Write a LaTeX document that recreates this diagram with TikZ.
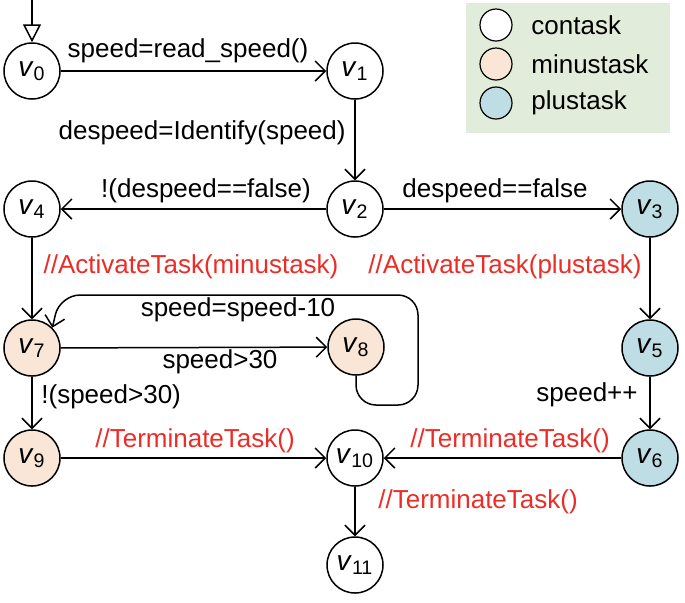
\documentclass[tikz,border=0pt]{standalone}
\usepackage{fontspec}
\setmainfont{Liberation Sans}
\usetikzlibrary{arrows.meta}
\definecolor{peach}{RGB}{250,230,214}
\definecolor{pblue}{RGB}{190,221,228}
\definecolor{legbg}{RGB}{226,236,218}
\definecolor{lred}{RGB}{235,45,40}
\newcommand{\vlab}[1]{\textit{v}\textsubscript{#1}}
\tikzset{
  state/.style={circle, draw, line width=0.75pt, minimum size=28pt, inner sep=0pt, font=\fontsize{14}{14}\selectfont},
  con/.style={state, fill=white},
  minus/.style={state, fill=peach},
  plus/.style={state, fill=pblue},
  arr/.style={line width=0.75pt, -{Straight Barb[length=5pt,width=10pt,line width=0.75pt]}},
  lab/.style={font=\fontsize{13}{13}\selectfont, inner sep=0pt},
  rlab/.style={lab, text=lred},
  legc/.style={circle, draw, line width=0.6pt, minimum size=16pt, inner sep=0pt}
}
\begin{document}
\begin{tikzpicture}[x=0.5pt,y=-0.5pt]
\useasboundingbox (0,0) rectangle (685,602);
% legend
\node[draw=none, fill=legbg, minimum width=102pt, minimum height=65pt, inner sep=0pt] (leg) at (568,68) {};
\node[legc, fill=white] (lc1) at (496,25) {};
\node[legc, fill=peach] (lc2) at (496,64) {};
\node[legc, fill=pblue] (lc3) at (496,103) {};
\node[lab, anchor=west] (lt1) at (531,25) {contask};
\node[lab, anchor=west] (lt2) at (531,64) {minustask};
\node[lab, anchor=west] (lt3) at (531,103) {plustask};
% states
\node[con] (v0) at (32,71) {\vlab{0}};
\node[con] (v1) at (355,71) {\vlab{1}};
\node[con] (v2) at (355,209) {\vlab{2}};
\node[plus] (v3) at (650,209) {\vlab{3}};
\node[con] (v4) at (32,209) {\vlab{4}};
\node[minus] (v7) at (32,348) {\vlab{7}};
\node[minus] (v8) at (356,347) {\vlab{8}};
\node[plus] (v5) at (650,348) {\vlab{5}};
\node[plus] (v6) at (650,458) {\vlab{6}};
\node[minus] (v9) at (32,458) {\vlab{9}};
\node[con] (v10) at (355,458) {\vlab{10}};
\node[con] (v11) at (355,565) {\vlab{11}};
\coordinate (init) at (32,0);
% edges
\draw[line width=0.75pt, -{Triangle[open,length=9pt,width=9pt,line width=0.75pt]}] (init) -- (v0);
\draw[arr] (v0) -- (v1);
\draw[arr] (v1) -- (v2);
\draw[arr] (v2) -- (v4);
\draw[arr] (v2) -- (v3);
\draw[arr] (v4) -- (v7);
\draw[arr] (v3) -- (v5);
\draw[arr] (v5) -- (v6);
\draw[arr] (v7) -- (v8);
\draw[arr] (v7) -- (v9);
\draw[arr] (v9) -- (v10);
\draw[arr] (v6) -- (v10);
\draw[arr] (v10) -- (v11);
\draw[arr, rounded corners=10pt] (v8.south) -- (v8.south |- 0,405) -- (418,405) -- (418,295) -- (60,295) -- (v7.north east);
% labels
\node[lab] (l1) at (188,51) {speed=read\_speed()};
\node[lab, anchor=east] (l2) at (346,133) {despeed=Identify(speed)};
\node[lab] (l3) at (206,191) {!(despeed==false)};
\node[lab] (l4) at (495,191) {despeed==false};
\node[rlab] (l5) at (191,267) {//ActivateTask(minustask)};
\node[rlab] (l6) at (505,267) {//ActivateTask(plustask)};
\node[lab] (l7) at (238,310) {speed=speed-10};
\node[lab] (l8) at (220,362) {speed>30};
\node[lab, anchor=west] (l9) at (41,397) {!(speed>30)};
\node[lab, anchor=east] (l10) at (638,395) {speed++};
\node[rlab] (l11) at (195,441) {//TerminateTask()};
\node[rlab] (l12) at (510,441) {//TerminateTask()};
\node[rlab] (l13) at (478,502) {//TerminateTask()};
\end{tikzpicture}
\end{document}
